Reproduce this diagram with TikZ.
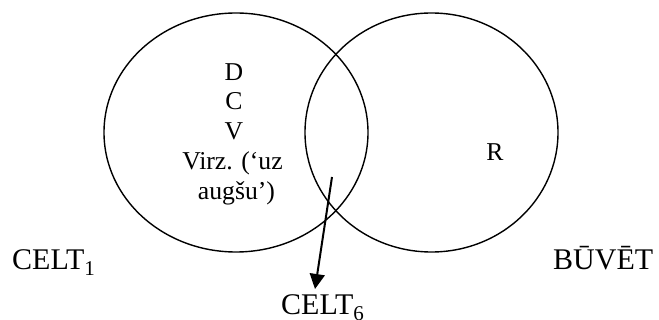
\documentclass[tikz,border=0pt]{standalone}
\usepackage{fontspec}
\setmainfont{Liberation Serif}
\usetikzlibrary{shapes.geometric,arrows.meta}
\tikzset{
  circ/.style={draw, ellipse, line width=1.4pt, inner sep=0pt},
  inner/.style={font=\fontsize{25.7}{29.6}\selectfont, inner sep=0pt, anchor=base},
  lab/.style={font=\fontsize{30}{34}\selectfont, inner sep=0pt, anchor=base west},
  arr/.style={line width=2pt, -{Triangle[length=15pt,width=15pt]}}
}
\begin{document}
\begin{tikzpicture}[x=1pt,y=-1pt]
\useasboundingbox (0,0) rectangle (659,320);
\node[circ, minimum width=264pt, minimum height=239pt] (c1) at (236,132.5) {};
\node[circ, minimum width=253pt, minimum height=239pt] (c2) at (431.5,132.5) {};
\node[inner] (t1) at (234,80.5) {D};
\node[inner] (t2) at (234,110) {C};
\node[inner] (t3) at (234,140) {V};
\node[inner] (t4) at (232.5,170) {Virz. (‘uz};
\node[inner] (t5) at (236.5,200) {augšu’)};
\node[inner] (r) at (495,160.5) {R};
\node[lab] (l1) at (12,270) {CELT\textsubscript{1}};
\node[lab] (l2) at (553,270) {BŪVĒT};
\node[lab] (l6) at (281,315) {CELT\textsubscript{6}};
\coordinate (a0) at (332,177);
\coordinate (a1) at (315,289);
\draw[arr] (a0) -- (a1);
\end{tikzpicture}
\end{document}
